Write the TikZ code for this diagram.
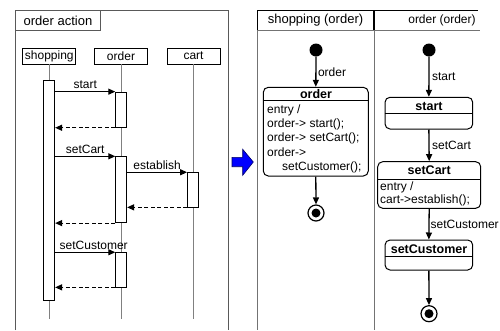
\documentclass[tikz,border=0pt]{standalone}
\usepackage{fontspec}
\setmainfont{Liberation Sans}
\usetikzlibrary{arrows.meta}

\tikzset{
    msg/.style={-{Triangle[length=7pt,width=6pt]}, line width=1.2pt},
    reply/.style={msg, dash pattern=on 4pt off 2.5pt},
    trans/.style={-{Triangle[length=7pt,width=6pt]}, line width=1.3pt},
    lifeline/.style={gray, line width=0.9pt},
    frameline/.style={black!65, line width=1pt},
    headbox/.style={draw, line width=0.8pt, minimum width=53pt, minimum height=16pt, inner sep=0pt},
    actbox/.style={draw, fill=white, line width=0.8pt, minimum width=11pt, inner sep=0pt},
    statebox/.style={draw, rounded corners=5pt, line width=1pt, inner sep=0pt},
    statetitle/.style={font=\fontsize{12.5}{14}\selectfont\bfseries, inner sep=0pt},
    startdot/.style={circle, fill, minimum size=13pt, inner sep=0pt},
    enddot/.style={circle, draw, line width=1.2pt, minimum size=16pt, inner sep=0pt,
        path picture={\fill (path picture bounding box.center) circle (4.5pt);}},
}

\begin{document}
\begin{tikzpicture}[x=1pt, y=-1pt, font=\fontsize{12}{14}\selectfont]
    \useasboundingbox (0,0) rectangle (500,330);
    \coordinate (bottom) at (0,319);

    % sequence frame
    \draw[frameline] (15,330) |- (228,10) -- (228,330);
    \node[draw, frameline, anchor=north west, minimum width=85, minimum height=20, inner sep=0pt, text=black,
        font=\fontsize{13}{14}\selectfont] (seqtitle) at (15,10) {order action};

    \node[headbox] (shopping) at (49.3,56) {shopping};
    \node[headbox] (order) at (121,56) {order};
    \node[headbox] (cart) at (193.5,56) {cart};
    \draw[lifeline] (shopping.south) -- (shopping.south |- bottom);
    \draw[lifeline] (order.south) -- (order.south |- bottom);
    \draw[lifeline] (cart.south) -- (cart.south |- bottom);

    \node[actbox, minimum height=220] (shoppingact) at (49.2,190) {};
    \node[actbox, minimum height=35.3] (orderact1) at (121.2,109.7) {};
    \node[actbox, minimum height=66] (orderact2) at (121.2,189.7) {};
    \node[actbox, minimum height=34.3] (orderact3) at (121.2,269.8) {};
    \node[actbox, minimum height=34.3] (cartact) at (193,189.8) {};

    \draw[msg] (shoppingact.east |- orderact1.north) -- (orderact1.north west) node[midway, above, inner sep=2pt] {start};
    \draw[reply] (orderact1.south west) -- (shoppingact.east |- orderact1.south);
    \draw[msg] (shoppingact.east |- orderact2.north) -- (orderact2.north west) node[midway, above, inner sep=2pt] {setCart};
    \draw[msg] (orderact2.east |- cartact.north) -- (cartact.north west) node[midway, above, inner sep=2pt] {establish};
    \draw[reply] (cartact.south west) -- (orderact2.east |- cartact.south);
    \draw[reply] (orderact2.south west) -- (shoppingact.east |- orderact2.south);
    \draw[msg] (shoppingact.east |- orderact3.north) -- (orderact3.north west) node[pos=0, anchor=south west, inner sep=2pt, xshift=2pt] {setCustomer};
    \draw[reply] (orderact3.south west) -- (shoppingact.east |- orderact3.south);

    % arrow between the two views
    \draw[fill=blue, draw=blue!40!black, line width=0.6pt]
        (232,157.3) -- (242.7,157.3) -- (242.7,149.3) -- (253.3,162) -- (242.7,175.3) -- (242.7,166.7) -- (232,166.7) -- cycle;

    % state machine lanes
    \draw[lifeline, black!55] (257,30) -- (257,330);
    \draw[lifeline, black!55] (374,30) -- (374,330);
    \draw[lifeline, black!55] (257,30) -- (480,30);
    \draw[line width=1pt] (257,30) |- (478,10);
    \draw[line width=1.4pt] (374,10) -- (374,30);
    \node[font=\fontsize{13}{14}\selectfont] (lanea) at (315.5,20) {shopping (order)};
    \node[font=\fontsize{12}{14}\selectfont] (laneb) at (442,20) {order (order)};

    % shopping lane
    \node[startdot] (dotA) at (316,50) {};
    \node[statebox, minimum width=105, minimum height=88.7] (orderst) at (315.8,131.65) {};
    \node[statetitle] (ordertitle) at (316,94.5) {order};
    \draw[line width=0.8pt] (orderst.west |- 0,100) -- (orderst.east |- 0,100);
    \node[anchor=north west, align=left, inner sep=0pt, font=\fontsize{12}{14.2}\selectfont] (orderbody) at (267,104.5)
        {entry /\\order-> start();\\order-> setCart();\\order->\\\hspace{15pt}setCustomer();};
    \node[enddot] (endA) at (316,213) {};
    \draw[trans] (dotA.south) -- (orderst.north) node[midway, right, inner sep=1.5pt] {order};
    \draw[trans] (orderst.south) -- (endA.north);

    % order lane
    \node[startdot] (dotB) at (429,50) {};
    \node[statebox, minimum width=87.7, minimum height=31.7] (startst) at (428.85,113.15) {};
    \node[statetitle] (starttitle) at (429,106) {start};
    \draw[line width=0.8pt] (startst.west |- 0,113.3) -- (startst.east |- 0,113.3);

    \node[statebox, minimum width=103, minimum height=46.6] (setcartst) at (429.2,185) {};
    \node[statetitle] (setcarttitle) at (429.2,170.5) {setCart};
    \draw[line width=0.8pt] (setcartst.west |- 0,179.3) -- (setcartst.east |- 0,179.3);
    \node[anchor=north west, align=left, inner sep=0pt, font=\fontsize{12}{12.5}\selectfont] (setcartbody) at (380,182)
        {entry /\\cart->establish();};

    \node[statebox, minimum width=87.7, minimum height=30] (setcustst) at (428.85,255) {};
    \node[statetitle] (setcusttitle) at (429,249.5) {setCustomer};
    \draw[line width=0.8pt] (setcustst.west |- 0,256.7) -- (setcustst.east |- 0,256.7);

    \node[enddot] (endB) at (429,313.7) {};
    \draw[trans] (dotB.south) -- (startst.north) node[midway, right, inner sep=2.5pt] {start};
    \draw[trans] (startst.south) -- (setcartst.north) node[midway, right, inner sep=2.5pt] {setCart};
    \draw[trans] (setcartst.south) -- (setcustst.north) node[midway, right, inner sep=1pt] {setCustomer};
    \draw[trans] (setcustst.south) -- (endB.north);
\end{tikzpicture}
\end{document}
